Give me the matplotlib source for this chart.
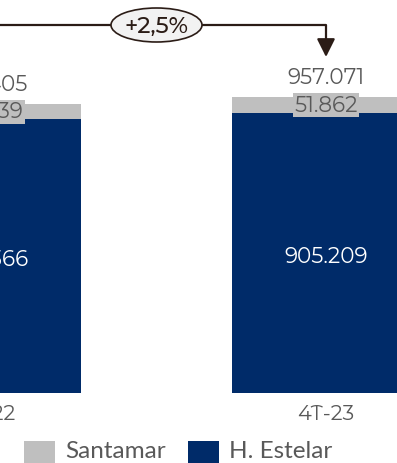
import matplotlib
matplotlib.use("Agg")
import matplotlib.pyplot as plt
from matplotlib.patches import Ellipse, Rectangle

categories = ["4T-22", "4T-23"]
estelar = [885366, 905209]
santamar = [48039, 51862]
growth_label = "+2,5%"

def fmt(v):
    return f"{v:,}".replace(",", ".")

NAVY = "#002b69"
GRAY = "#bfbfbf"
TXT = "#595959"
DARK = "#2b1c16"

plt.rcParams['font.family'] = ['Montserrat Alternates', 'DejaVu Sans']
plt.rcParams['font.weight'] = 400
W, H = 397, 463
fig = plt.figure(figsize=(W / 100, H / 100), dpi=100)

bottom_px = 70
ax = fig.add_axes([0, bottom_px / H, 1, (H - bottom_px) / H])
ax.axis("off")

px_per_unit = 339.0
center1_px = 326.0
xmin = 1 - center1_px / px_per_unit
xmax = xmin + W / px_per_unit
ax.set_xlim(xmin, xmax)
totals = [e + s for e, s in zip(estelar, santamar)]
scale = totals[1] / 296.0  # value per pixel
ax.set_ylim(0, (H - bottom_px) * scale)

x = list(range(len(categories)))
bw = 188 / px_per_unit
ax.bar(x, estelar, width=bw, color=NAVY, zorder=2)
ax.bar(x, santamar, width=bw, bottom=estelar, color=GRAY, zorder=2)

FS = 15.5
for i in x:
    ax.annotate(fmt(totals[i]), (i, totals[i]), xytext=(0, 20), textcoords="offset pixels",
                ha="center", va="center", fontsize=FS, color=TXT, annotation_clip=False)
    ax.text(i, estelar[i] + santamar[i] / 2, fmt(santamar[i]), ha="center", va="center",
            fontsize=FS, color=TXT, zorder=3,
            bbox=dict(boxstyle="square,pad=0.08", fc=GRAY, ec="none"))
    ax.annotate(fmt(estelar[i]), (i, estelar[i] / 2), xytext=(0, -3), textcoords="offset pixels",
                ha="center", va="center", fontsize=FS, color="white", annotation_clip=False)
    ax.annotate(categories[i], (i, 0), xytext=(0, -21), textcoords="offset pixels",
                ha="center", va="center", fontsize=15, color=TXT, annotation_clip=False)

# growth arrow
y_line = (H - 25 - bottom_px) * scale
y_tip = (H - 57 - bottom_px) * scale
ax.plot([xmin - 1, 1], [y_line, y_line], color=DARK, lw=1.6, solid_capstyle="butt", zorder=4)
ax.annotate("", xy=(1, y_tip), xytext=(1, y_line),
            arrowprops=dict(arrowstyle="-|>,head_length=1.1,head_width=0.55", color=DARK,
                            lw=1.6, shrinkA=0, shrinkB=0, mutation_scale=10), zorder=4)
ell = Ellipse((1.565, (H - 25) / 100), 0.91, 0.34, transform=fig.dpi_scale_trans,
              fc="#f2f2f2", ec=DARK, lw=1.2, zorder=5)
fig.add_artist(ell)
fig.text(1.565 / (W / 100), (H - 26) / H, growth_label, ha="center", va="center",
         fontsize=16.5, fontweight=500, color=DARK, zorder=6)

# legend
leg = [("Santamar", GRAY, 24, 65), ("H. Estelar", NAVY, 188, 229)]
for lab, col, sx, tx in leg:
    fig.add_artist(Rectangle((sx / W, -9 / H), 31 / W, 31 / H, transform=fig.transFigure,
                             fc=col, ec="none"))
    fig.text(tx / W, (H - 452) / H, lab, ha="left", va="center", fontsize=17.5,
             family=["Lato", "DejaVu Sans"], color=TXT)

fig.savefig("out.png", dpi=100)
